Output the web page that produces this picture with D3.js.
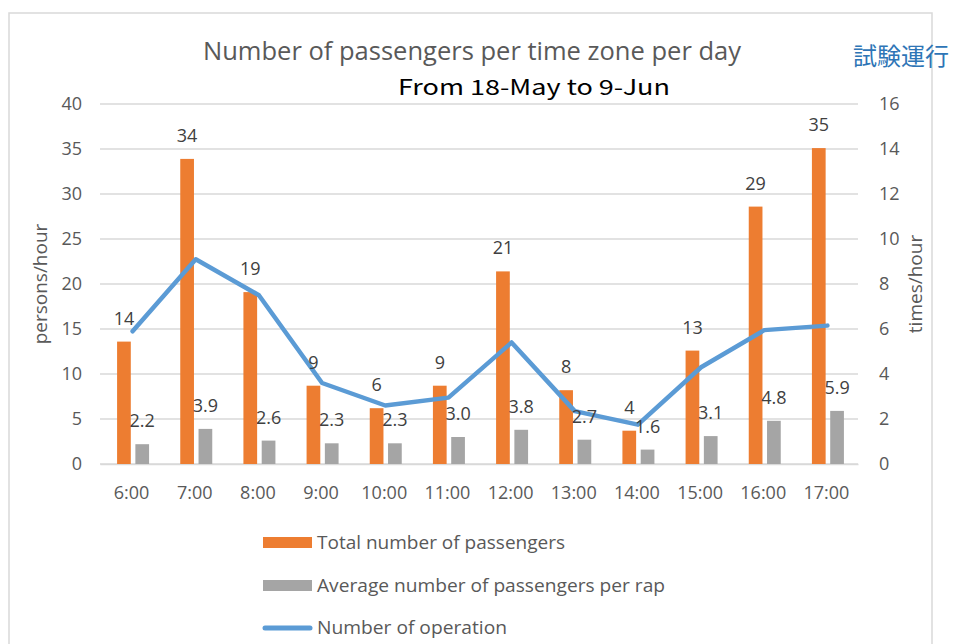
<!DOCTYPE html>
<html><head><meta charset="utf-8">
<script src="https://cdn.jsdelivr.net/npm/d3@7"></script>
<style>body{margin:0;background:#fff}svg{display:block}text{font-family:"Open Sans",sans-serif}</style>
</head><body>
<svg id="c" width="961" height="644"></svg>
<script>
const categories = ["6:00","7:00","8:00","9:00","10:00","11:00","12:00","13:00","14:00","15:00","16:00","17:00"];
const totalPassengers = [13.6,33.9,19.1,8.7,6.2,8.7,21.4,8.2,3.7,12.6,28.6,35.1];
const avgPerRap = [2.2,3.9,2.6,2.3,2.3,3.0,3.8,2.7,1.6,3.1,4.8,5.9];
const operations = [5.9,9.1,7.5,3.6,2.6,2.95,5.4,2.35,1.75,4.3,5.95,6.15];
const leftTicks = [0,5,10,15,20,25,30,35,40];
const rightTicks = [0,2,4,6,8,10,12,14,16];
const seriesNames = ["Total number of passengers","Average number of passengers per rap","Number of operation"];
const titleText = "Number of passengers per time zone per day";
const subtitleText = "From 18-May to 9-Jun";
const cornerText = "試験運行";

const C = {orange:"#ED7D31", gray:"#A5A5A5", blue:"#5B9BD5", grid:"#D9D9D9", tick:"#595959", label:"#404040"};
const svg = d3.select("#c");

// chart frame
svg.append("rect").attr("x",9).attr("y",13).attr("width",923).attr("height",640)
  .attr("fill","none").attr("stroke","#D9D9D9").attr("stroke-width",1.5);

const x = d3.scaleBand().domain(categories).range([100,858]).padding(0);
const yL = d3.scaleLinear().domain([0,40]).range([464,104]);
const yR = d3.scaleLinear().domain([0,16]).range([464,104]);
const x1 = d3.scaleBand().domain(["total","avg"]).range([-14.5,17.5]).paddingInner(0.25);

// gridlines
svg.append("g").selectAll("line").data(leftTicks).join("line")
  .attr("x1",100).attr("x2",858).attr("y1",d=>yL(d)).attr("y2",d=>yL(d))
  .attr("stroke",C.grid).attr("stroke-width",1.3);

// left axis
const gl = svg.append("g").attr("transform","translate(82,0)")
  .call(d3.axisLeft(yL).tickValues(leftTicks).tickSize(0).tickPadding(0));
gl.select(".domain").remove();
gl.selectAll("text").attr("fill",C.tick).attr("font-size",18).attr("font-family","Open Sans");

// right axis
const gr = svg.append("g").attr("transform","translate(879,0)")
  .call(d3.axisRight(yR).tickValues(rightTicks).tickSize(0).tickPadding(0));
gr.select(".domain").remove();
gr.selectAll("text").attr("fill",C.tick).attr("font-size",18).attr("font-family","Open Sans");

// bottom axis
const gb = svg.append("g").attr("transform","translate(0,464)")
  .call(d3.axisBottom(x).tickSize(0).tickPadding(22));
gb.select(".domain").attr("stroke",C.grid).attr("stroke-width",1.3);
gb.selectAll("text").attr("fill",C.tick).attr("font-size",18).attr("font-family","Open Sans");

// bars
const c = d => x(d) + x.bandwidth()/2;
svg.append("g").selectAll("rect").data(categories).join("rect")
  .attr("x",(d)=>c(d)+x1("total")).attr("width",x1.bandwidth())
  .attr("y",(d,i)=>yL(totalPassengers[i])).attr("height",(d,i)=>yL(0)-yL(totalPassengers[i]))
  .attr("fill",C.orange);
svg.append("g").selectAll("rect").data(categories).join("rect")
  .attr("x",(d)=>c(d)+x1("avg")).attr("width",x1.bandwidth())
  .attr("y",(d,i)=>yL(avgPerRap[i])).attr("height",(d,i)=>yL(0)-yL(avgPerRap[i]))
  .attr("fill",C.gray);

// line
const line = d3.line().x((d,i)=>c(categories[i])+1).y(d=>yR(d));
svg.append("path").datum(operations).attr("d",line).attr("fill","none")
  .attr("stroke",C.blue).attr("stroke-width",4.5).attr("stroke-linejoin","round").attr("stroke-linecap","round");

// data labels
svg.append("g").selectAll("text").data(categories).join("text")
  .attr("x",d=>c(d)+x1("total")+x1.bandwidth()/2).attr("y",(d,i)=>yL(totalPassengers[i])-17)
  .attr("text-anchor","middle").attr("font-size",18).attr("fill",C.label)
  .text((d,i)=>d3.format(".0f")(totalPassengers[i]));
svg.append("g").selectAll("text").data(categories).join("text")
  .attr("x",d=>c(d)+x1("avg")+x1.bandwidth()/2).attr("y",(d,i)=>yL(avgPerRap[i])-17)
  .attr("text-anchor","middle").attr("font-size",18).attr("fill",C.label)
  .text((d,i)=>d3.format(".1f")(avgPerRap[i]));

// axis titles
svg.append("text").attr("transform","translate(47,284) rotate(-90)").attr("text-anchor","middle")
  .attr("font-size",19).attr("fill",C.tick).text("persons/hour");
svg.append("text").attr("transform","translate(922,284) rotate(-90)").attr("text-anchor","middle")
  .attr("font-size",19).attr("fill",C.tick).text("times/hour");

// titles
svg.append("text").attr("x",203).attr("y",60).attr("font-size",25).attr("fill","#595959")
  .attr("textLength",538).attr("lengthAdjust","spacingAndGlyphs").text(titleText);
svg.append("text").attr("x",398).attr("y",95).attr("font-size",21).attr("fill","#000")
  .style("font-family","'Noto Sans CJK JP',sans-serif")
  .attr("textLength",272).attr("lengthAdjust","spacingAndGlyphs").text(subtitleText);
svg.append("text").attr("x",853).attr("y",65).attr("font-size",24).attr("fill","#2E75B6")
  .style("font-family","'Noto Sans CJK JP',sans-serif").text(cornerText);

// legend
const lg = svg.append("g");
const legendWidths = [248,348,190];
const legendY = [543,586,628];
lg.append("rect").attr("x",263).attr("y",legendY[0]-6).attr("width",49).attr("height",11).attr("fill",C.orange);
lg.append("rect").attr("x",263).attr("y",legendY[1]-6).attr("width",49).attr("height",11).attr("fill",C.gray);
lg.append("line").attr("x1",265).attr("x2",310).attr("y1",legendY[2]).attr("y2",legendY[2])
  .attr("stroke",C.blue).attr("stroke-width",5).attr("stroke-linecap","round");
lg.selectAll("text").data(seriesNames).join("text")
  .attr("x",317).attr("y",(d,i)=>legendY[i]).attr("dy","0.35em")
  .attr("font-size",18).attr("fill",C.tick)
  .attr("textLength",(d,i)=>legendWidths[i]).attr("lengthAdjust","spacingAndGlyphs").text(d=>d);
</script>
</body></html>
